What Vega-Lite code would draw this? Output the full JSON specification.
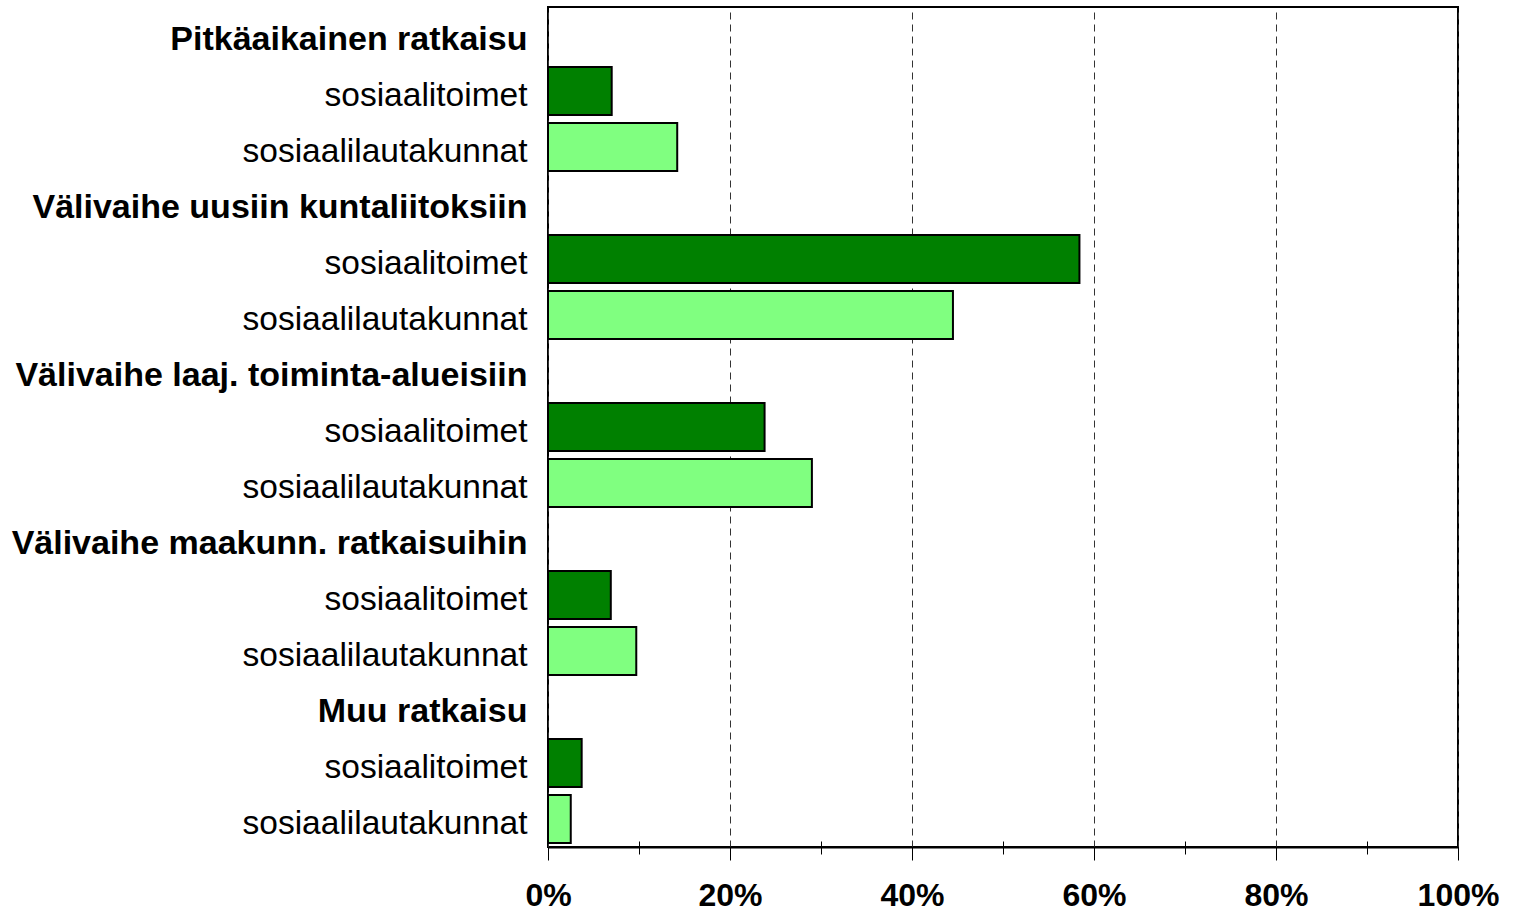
{
  "$schema": "https://vega.github.io/schema/vega-lite/v6.json",
  "width": 910,
  "height": 840,
  "autosize": {"type": "none"},
  "padding": {"left": 548, "top": 7, "right": 63, "bottom": 66},
  "background": "white",
  "config": {
    "view": {"stroke": "#000", "strokeWidth": 2},
    "font": "Liberation Sans"
  },
  "data": {
    "values": [
      {"row": "A1|sosiaalitoimet", "type": "sosiaalitoimet", "value": 0.07},
      {"row": "B1|sosiaalilautakunnat", "type": "sosiaalilautakunnat", "value": 0.142},
      {"row": "A2|sosiaalitoimet", "type": "sosiaalitoimet", "value": 0.584},
      {"row": "B2|sosiaalilautakunnat", "type": "sosiaalilautakunnat", "value": 0.445},
      {"row": "A3|sosiaalitoimet", "type": "sosiaalitoimet", "value": 0.238},
      {"row": "B3|sosiaalilautakunnat", "type": "sosiaalilautakunnat", "value": 0.29},
      {"row": "A4|sosiaalitoimet", "type": "sosiaalitoimet", "value": 0.069},
      {"row": "B4|sosiaalilautakunnat", "type": "sosiaalilautakunnat", "value": 0.097},
      {"row": "A5|sosiaalitoimet", "type": "sosiaalitoimet", "value": 0.037},
      {"row": "B5|sosiaalilautakunnat", "type": "sosiaalilautakunnat", "value": 0.025}
    ]
  },
  "resolve": {"axis": {"x": "independent"}},
  "layer": [
    {
      "mark": {"type": "bar", "stroke": "#000", "strokeWidth": 2},
      "encoding": {
        "y": {
          "field": "row",
          "type": "nominal",
          "scale": {
            "domain": [
              "H1|Pitkäaikainen ratkaisu", "A1|sosiaalitoimet", "B1|sosiaalilautakunnat",
              "H2|Välivaihe uusiin kuntaliitoksiin", "A2|sosiaalitoimet", "B2|sosiaalilautakunnat",
              "H3|Välivaihe laaj. toiminta-alueisiin", "A3|sosiaalitoimet", "B3|sosiaalilautakunnat",
              "H4|Välivaihe maakunn. ratkaisuihin", "A4|sosiaalitoimet", "B4|sosiaalilautakunnat",
              "H5|Muu ratkaisu", "A5|sosiaalitoimet", "B5|sosiaalilautakunnat"
            ],
            "paddingInner": 0.14,
            "paddingOuter": 0.07
          },
          "axis": {
            "title": null,
            "domain": false,
            "ticks": false,
            "labelPadding": 21,
            "labelOffset": 5,
            "labelColor": "#000",
            "labelLimit": 700,
            "labelExpr": "split(datum.label, '|')[1]",
            "labelFontSize": {"condition": {"test": "datum.value[0] === 'H'", "value": 34}, "value": 33.5},
            "labelFontWeight": {"condition": {"test": "datum.value[0] === 'H'", "value": "bold"}, "value": "normal"}
          }
        },
        "x": {
          "field": "value",
          "type": "quantitative",
          "scale": {"domain": [0, 1], "nice": false},
          "axis": {
            "orient": "bottom",
            "title": null,
            "values": [0, 0.2, 0.4, 0.6, 0.8, 1],
            "format": ".0%",
            "labelFontSize": 32,
            "labelFontWeight": "bold",
            "labelColor": "#000",
            "labelPadding": 20,
            "labelFlush": false,
            "tickSize": 13,
            "tickColor": "#000",
            "tickWidth": 1,
            "domainColor": "#000",
            "domainWidth": 2,
            "grid": true,
            "gridColor": "#333",
            "gridDash": [7, 5],
            "gridWidth": 1
          }
        },
        "color": {
          "field": "type",
          "type": "nominal",
          "scale": {"domain": ["sosiaalitoimet", "sosiaalilautakunnat"], "range": ["#008000", "#80FF80"]},
          "legend": null
        }
      }
    },
    {
      "mark": {"type": "bar", "opacity": 0},
      "encoding": {
        "y": {"field": "row", "type": "nominal"},
        "x": {
          "field": "value",
          "type": "quantitative",
          "axis": {
            "orient": "bottom",
            "title": null,
            "values": [0.1, 0.3, 0.5, 0.7, 0.9],
            "labels": false,
            "domain": false,
            "grid": false,
            "offset": -6,
            "tickSize": 13,
            "tickColor": "#000",
            "tickWidth": 1
          }
        }
      }
    }
  ]
}
